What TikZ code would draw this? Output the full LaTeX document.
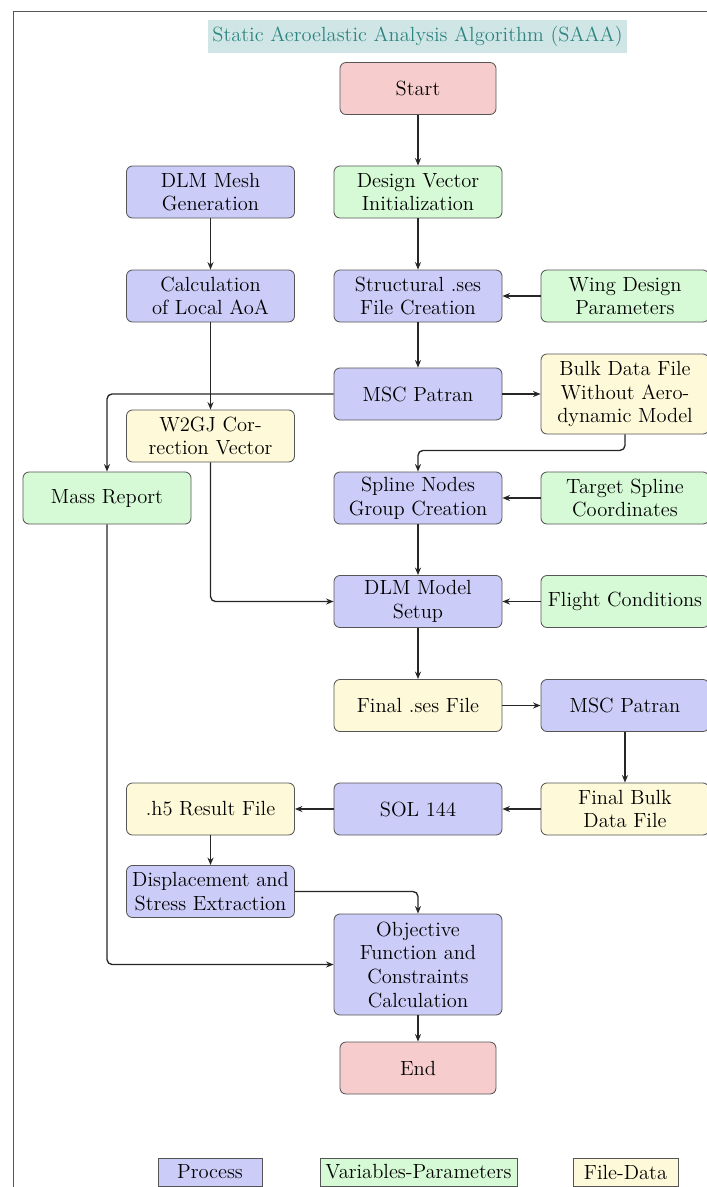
\documentclass[tikz,border=0pt]{standalone}
\usetikzlibrary{arrows.meta,positioning}
\definecolor{procc}{HTML}{CCCCF8}
\definecolor{varc}{HTML}{D6FAD6}
\definecolor{filec}{HTML}{FEF9D8}
\definecolor{termc}{HTML}{F6CCCC}
\definecolor{titlec}{HTML}{D0E6E6}
\definecolor{titletx}{HTML}{2E8581}
\definecolor{edgec}{HTML}{555555}
\tikzset{
  base/.style={draw=edgec, line width=0.5pt, rounded corners=3.6pt, align=center,
    minimum width=100.8pt, minimum height=31.2pt, inner sep=1pt,
    font=\fontsize{12.3}{14.2}\selectfont},
  proc/.style={base, fill=procc},
  var/.style={base, fill=varc},
  filed/.style={base, fill=filec},
  term/.style={base, fill=termc, minimum width=93.6pt},
  legbox/.style={draw=edgec, line width=0.5pt, minimum height=16.8pt, inner sep=1pt,
    font=\fontsize{12.3}{14.2}\selectfont},
  arr/.style={draw=black!85, line width=0.8pt, -{Stealth[length=4.5pt,width=3.6pt]}, rounded corners=3pt}
}
\begin{document}
\begin{tikzpicture}[x=0.6pt,y=-0.6pt]
\useasboundingbox (0,0) rectangle (707,1187);
\draw[edgec, line width=0.5pt] (13,1187) -- (13,11) -- (707,11);
\node[fill=titlec, minimum width=251.4pt, minimum height=19.8pt, inner sep=0pt,
  text=titletx, font=\fontsize{12.3}{14.2}\selectfont] (title) at (417.5,36.5)
  {Static Aeroelastic Analysis Algorithm (SAAA)};

\node[term] (start) at (418,88.5) {Start};
\node[var] (dv) at (418,192) {Design Vector\\Initialization};
\node[proc] (mesh) at (210.5,192) {DLM Mesh\\Generation};
\node[proc] (calc) at (210.5,296) {Calculation\\of Local AoA};
\node[proc] (struct) at (418,296) {Structural .ses\\File Creation};
\node[var] (wing) at (625,296) {Wing Design\\Parameters};
\node[proc] (patran) at (418,394) {MSC Patran};
\node[filed, minimum height=48pt] (bulk) at (625,394) {Bulk Data File\\Without Aero-\\dynamic Model};
\node[filed] (w2gj) at (210.5,436) {W2GJ Cor-\\rection Vector};
\node[var] (mass) at (107,498) {Mass Report};
\node[proc] (spline) at (418,498) {Spline Nodes\\Group Creation};
\node[var] (target) at (625,498) {Target Spline\\Coordinates};
\node[proc] (dlm) at (418,601.5) {DLM Model\\Setup};
\node[var] (flight) at (625,601.5) {Flight Conditions};
\node[filed] (fses) at (418,705.5) {Final .ses File};
\node[proc] (patran2) at (625,705.5) {MSC Patran};
\node[filed] (fbulk) at (625,809) {Final Bulk\\Data File};
\node[proc] (sol) at (418,809) {SOL 144};
\node[filed] (h5) at (210.5,809) {.h5 Result File};
\node[proc] (disp) at (210.5,891.5) {Displacement and\\Stress Extraction};
\node[proc, minimum height=60.6pt] (obj) at (418,964.5) {Objective\\Function and\\Constraints\\Calculation};
\node[term] (end) at (418,1068) {End};

\node[legbox, fill=procc, minimum width=62.4pt] (lp) at (210,1172) {Process};
\node[legbox, fill=varc, minimum width=118.2pt] (lv) at (418.5,1172) {Variables-Parameters};
\node[legbox, fill=filec, minimum width=63pt] (lf) at (625.5,1172) {File-Data};

\draw[arr] (start) -- (dv);
\draw[arr] (dv) -- (struct);
\draw[arr] (wing) -- (struct);
\draw[arr] (struct) -- (patran);
\draw[arr] (patran) -- (bulk);
\draw[arr] (mesh) -- (calc);
\draw[arr] (calc) -- (w2gj);
\draw[arr] (patran.west) -| (mass.north);
\draw[arr] (w2gj.south) |- (dlm.west);
\draw[arr] (bulk.south) -- ++(0,16) -| (spline.north);
\draw[arr] (target) -- (spline);
\draw[arr] (spline) -- (dlm);
\draw[arr] (flight) -- (dlm);
\draw[arr] (dlm) -- (fses);
\draw[arr] (fses) -- (patran2);
\draw[arr] (patran2) -- (fbulk);
\draw[arr] (fbulk) -- (sol);
\draw[arr] (sol) -- (h5);
\draw[arr] (h5) -- (disp);
\draw[arr] (disp.east) -| (obj.north);
\draw[arr] (mass.south) |- (obj.west);
\draw[arr] (obj) -- (end);
\end{tikzpicture}
\end{document}
